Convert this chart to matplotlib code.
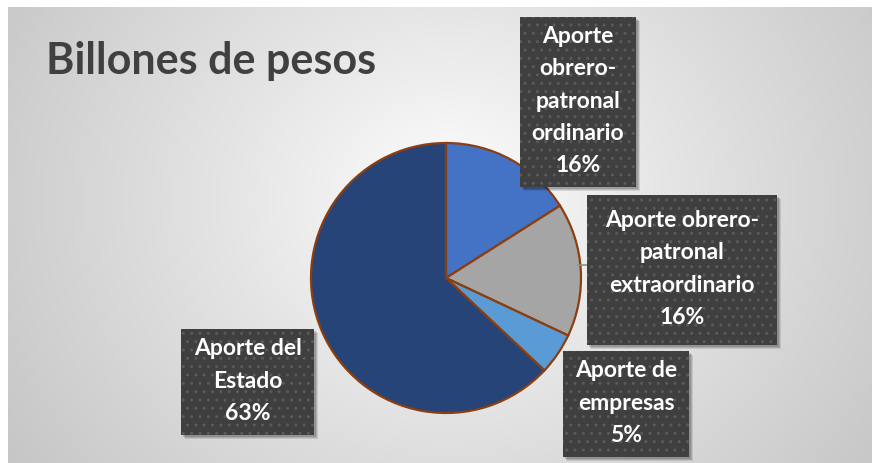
import numpy as np
import matplotlib
matplotlib.use("Agg")
import matplotlib.pyplot as plt
from matplotlib.patches import Rectangle

# ---- data ----
categories = ["Aporte\nobrero-\npatronal\nordinario",
              "Aporte obrero-\npatronal\nextraordinario",
              "Aporte de\nempresas",
              "Aporte del\nEstado"]
shares = [16, 16, 5, 63]
colors = ["#4472C4", "#A5A5A5", "#5B9BD5", "#264478"]
title = "Billones de pesos"

W, H = 872, 463
fig = plt.figure(figsize=(W / 100, H / 100), dpi=100)
fig.patch.set_facecolor("white")
ax = fig.add_axes([0, 0, 1, 1])
ax.set_xlim(0, W)
ax.set_ylim(0, H)
ax.set_aspect("equal")
ax.axis("off")

# background radial gradient (chart area from x=8, top y=7)
x0, ytop = 8, 7
gx = np.linspace(x0, W, 400)
gy = np.linspace(0, H - ytop, 220)
XX, YY = np.meshgrid(gx, gy)
cx, cy = 450, H - 200
d = np.sqrt(((XX - cx) / 1.0) ** 2 + ((YY - cy) / 0.9) ** 2)
t = np.clip(d / 520, 0, 1) ** 0.9
v = 1.0 - t * (1.0 - 0.78)
img = np.dstack([v, v, v])
ax.imshow(img, extent=[x0, W, 0, H - ytop], origin="lower", zorder=0, aspect="auto")

# title
ax.text(46, H - 61, title, fontsize=31, fontweight="bold", color="#404040",
        family=["Lato", "DejaVu Sans"], va="center", ha="left", zorder=5)

# pie
pcx, pcy, R = 446, H - 278, 135
wedges, _ = ax.pie(shares, colors=colors, startangle=90, counterclock=False,
                   center=(pcx, pcy), radius=R, frame=True,
                   wedgeprops=dict(edgecolor="#8B3E0F", linewidth=1.6))
ax.set_xlim(0, W)
ax.set_ylim(0, H)
ax.axis("off")

# label boxes (left, top, right, bottom in image px)
boxes = [(520, 17, 636, 187), (587, 195, 777, 345), (563, 351, 689, 457), (181, 329, 314, 435)]
# leader line for the second label
ax.plot([578, 587], [H - 265, H - 265], color="#8c8c8c", lw=1.2, zorder=6)

for (l, t_, r, b), cat, s in zip(boxes, categories, shares):
    w, h = r - l, b - t_
    # shadow
    for k, a in [(4, 0.10), (3, 0.12), (2, 0.15)]:
        ax.add_patch(Rectangle((l + k, H - b - k), w, h, facecolor="black",
                               alpha=a, edgecolor="none", zorder=6))
    ax.add_patch(Rectangle((l, H - b), w, h, facecolor="#3F3F3F",
                           edgecolor="none", zorder=7))
    ax.add_patch(Rectangle((l, H - b), w, h, facecolor="none", hatch="..",
                           edgecolor="#5A5A5A", linewidth=0, zorder=7.5))
    ax.text((l + r) / 2, H - (t_ + b) / 2 + 1, f"{cat}\n{s}%", fontsize=16.5,
            fontweight="bold", color="white", family=["Lato", "DejaVu Sans"],
            ha="center", va="center", linespacing=1.66, zorder=8)

fig.savefig("out.png", dpi=100)
